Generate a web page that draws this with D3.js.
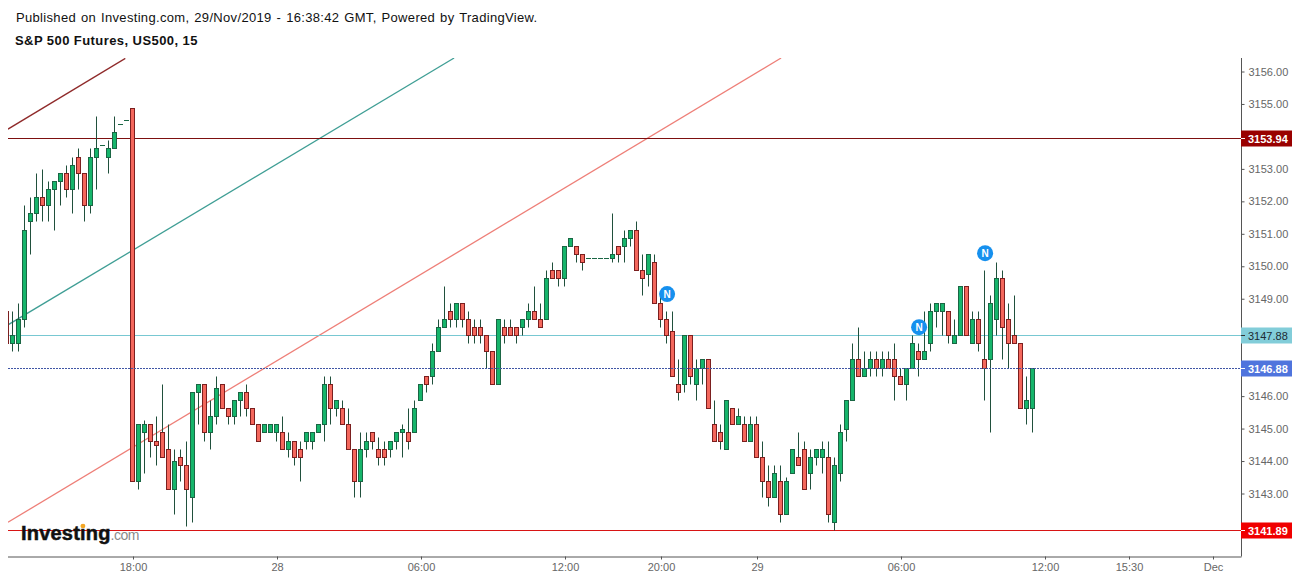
<!DOCTYPE html>
<html>
<head>
<meta charset="utf-8">
<style>
body { margin: 0; background: #fff; overflow: hidden; }
svg { display: block; }
text { font-family: "Liberation Sans", Arial, sans-serif; }
</style>
<script src="https://cdn.jsdelivr.net/npm/d3@7"></script>
</head>
<body>
<script>
const publishedText = 'Published on Investing.com, 29/Nov/2019 - 16:38:42 GMT, Powered by TradingView.';
const titleText = 'S&P 500 Futures, US500, 15';

// first bar is cut off by the left edge of the pane
const firstBar = -1;

const opens = [
  3148.63,3147.63,3147.63,3148.38,3151.38,3151.63,3152.13,3151.88,3152.38,3152.63,
  3152.88,3152.38,3153.38,3152.88,3151.88,3153.38,3153.75,3153.38,3153.63,3154.38,3154.5,
  3154.88,3143.38,3144.88,3145.13,3144.63,3144.88,3144.38,3143.13,3144.13,3143.88,
  3142.88,3146.13,3146.38,3144.88,3145.38,3146.38,3145.63,3145.38,3145.88,3146.13,
  3145.63,3145.13,3144.88,3144.88,3144.88,3144.88,3144.38,3144.63,3144.38,3144.63,
  3144.63,3144.88,3145.13,3146.38,3145.63,3145.63,3145.13,3144.38,3143.38,3144.38,
  3144.88,3144.38,3144.38,3144.38,3144.63,3144.88,3144.88,3144.88,3145.88,3146.63,
  3146.63,3147.38,3148.13,3148.63,3148.38,3148.88,3148.38,3148.13,3148.13,3147.88,
  3147.38,3146.38,3148.13,3148.13,3148.13,3148.13,3148.38,3148.63,3148.38,3148.38,
  3149.88,3149.88,3149.63,3150.63,3150.63,3150.38,3150.25,3150.25,3150.25,3150.25,
  3150.25,3150.63,3150.63,3150.88,3151.13,3149.88,3149.75,3150.13,3148.88,3148.38,
  3148.0,3146.38,3146.38,3147.88,3146.38,3146.88,3147.13,3145.13,3144.88,3144.38,
  3145.63,3145.13,3145.13,3144.63,3145.13,3144.13,3143.38,3142.88,3143.38,3142.38,
  3143.63,3144.13,3144.38,3143.63,3144.13,3144.13,3144.13,3142.13,3143.63,3145.0,
  3145.88,3147.13,3146.63,3146.88,3147.13,3146.88,3147.13,3147.13,3146.63,3146.38,
  3146.88,3147.38,3147.13,3147.63,3148.63,3148.63,3148.63,3147.63,3147.88,3149.38,
  3147.63,3148.38,3147.13,3147.13,3148.38,3149.63,3148.38,3147.88,3147.63,3145.63,3145.63
];
const highs = [
  3148.63,3148.63,3148.88,3151.88,3152.13,3152.88,3153.0,3152.63,3152.63,3152.88,
  3153.13,3153.38,3153.63,3152.88,3153.63,3154.63,3153.75,3153.88,3154.63,3154.38,3154.5,
  3154.88,3145.13,3145.25,3145.13,3145.38,3146.38,3145.13,3144.38,3144.38,3144.63,
  3146.13,3146.38,3146.38,3145.88,3146.63,3146.38,3145.63,3145.88,3146.13,3146.38,
  3145.63,3145.13,3145.13,3145.13,3145.13,3145.38,3144.88,3144.63,3144.63,3144.88,
  3144.88,3145.13,3146.63,3146.63,3145.88,3145.88,3145.63,3144.38,3144.88,3144.88,
  3144.88,3144.75,3144.63,3144.63,3144.88,3145.13,3145.63,3145.88,3146.38,3146.63,
  3147.63,3148.38,3149.38,3148.88,3148.88,3148.88,3148.63,3148.38,3148.38,3147.88,
  3147.38,3148.38,3148.38,3148.38,3148.13,3148.38,3148.88,3149.38,3148.88,3149.88,
  3150.13,3149.88,3150.63,3150.88,3150.63,3150.38,3150.25,3150.25,3150.25,3150.25,
  3151.63,3150.63,3151.13,3151.13,3151.38,3150.38,3150.38,3150.38,3149.13,3148.63,
  3148.63,3147.13,3147.88,3147.88,3147.13,3147.13,3147.13,3145.88,3145.13,3145.88,
  3145.63,3145.63,3145.38,3145.38,3145.38,3144.63,3143.88,3143.88,3143.88,3143.5,
  3144.38,3144.88,3144.63,3144.38,3144.38,3144.63,3144.63,3144.13,3145.13,3145.88,
  3147.63,3148.13,3147.38,3147.38,3147.38,3147.38,3147.38,3147.63,3146.88,3146.88,
  3147.88,3147.63,3148.63,3148.88,3148.88,3148.88,3148.63,3148.38,3149.38,3149.38,
  3148.63,3148.63,3149.88,3149.13,3150.13,3149.88,3148.88,3149.13,3147.63,3146.63,3146.88
];
const lows = [
  3147.63,3147.38,3147.38,3148.13,3150.38,3151.38,3151.38,3151.38,3151.13,3151.88,
  3152.13,3151.63,3152.38,3151.38,3151.63,3152.38,3153.75,3152.88,3153.63,3154.38,3154.5,
  3143.38,3143.13,3143.63,3144.13,3143.88,3144.13,3143.13,3142.38,3143.38,3142.0,
  3142.13,3145.13,3144.63,3144.38,3145.13,3145.63,3145.13,3145.13,3145.38,3145.38,
  3145.13,3144.63,3144.88,3144.88,3144.63,3144.38,3144.13,3143.88,3143.38,3144.38,
  3144.38,3144.88,3144.63,3145.13,3145.38,3145.13,3144.38,3142.88,3142.88,3144.13,
  3144.38,3143.88,3143.88,3144.13,3144.38,3144.13,3144.38,3144.88,3145.88,3146.13,
  3146.38,3147.38,3148.13,3148.13,3148.13,3148.13,3147.63,3147.63,3147.63,3146.88,
  3146.38,3146.38,3147.63,3147.88,3147.63,3147.88,3148.13,3148.38,3148.13,3148.38,
  3149.63,3149.38,3149.38,3150.63,3150.13,3149.88,3150.25,3150.25,3150.25,3150.25,
  3150.13,3150.13,3150.13,3150.63,3149.88,3149.13,3149.38,3148.88,3148.13,3147.63,
  3146.63,3145.88,3146.13,3146.38,3145.88,3146.38,3145.63,3144.63,3144.38,3144.38,
  3145.13,3145.13,3144.63,3144.63,3144.13,3142.88,3142.63,3142.88,3142.13,3142.38,
  3143.63,3143.88,3143.13,3143.13,3143.88,3143.63,3142.13,3141.88,3143.38,3144.63,
  3145.88,3146.63,3146.63,3146.63,3146.63,3146.63,3146.88,3145.88,3146.38,3145.88,
  3146.88,3146.63,3147.13,3147.38,3148.13,3147.88,3147.63,3147.63,3147.88,3147.88,
  3147.63,3147.38,3145.88,3144.88,3147.88,3147.13,3146.88,3147.63,3145.63,3145.13,3144.88
];
const closes = [
  3147.63,3147.88,3148.38,3151.13,3151.63,3152.13,3151.88,3152.38,3152.63,3152.88,
  3152.38,3153.13,3152.88,3151.88,3153.38,3153.63,3153.75,3153.63,3154.13,3154.38,3154.5,
  3143.38,3145.13,3145.13,3144.63,3144.5,3144.13,3143.13,3144.0,3143.88,3143.13,
  3146.13,3146.38,3144.88,3145.38,3146.25,3145.63,3145.38,3145.88,3146.13,3145.63,
  3145.13,3144.63,3145.13,3145.13,3145.13,3144.38,3144.63,3144.13,3144.13,3144.88,
  3144.88,3145.13,3146.38,3145.63,3145.88,3145.13,3144.38,3143.38,3144.38,3144.63,
  3144.63,3144.13,3144.13,3144.63,3144.88,3145.0,3144.63,3145.63,3146.38,3146.38,
  3147.38,3148.13,3148.38,3148.38,3148.88,3148.38,3147.88,3147.88,3147.88,3147.38,
  3146.38,3148.38,3147.88,3147.88,3147.88,3148.38,3148.63,3148.38,3148.13,3149.63,
  3149.63,3149.63,3150.63,3150.88,3150.38,3150.13,3150.25,3150.25,3150.25,3150.25,
  3150.38,3150.38,3150.88,3151.13,3149.88,3149.63,3150.38,3148.88,3148.38,3147.88,
  3146.63,3146.13,3147.88,3146.63,3146.88,3147.13,3145.63,3144.63,3144.63,3145.88,
  3145.13,3145.38,3144.63,3145.13,3144.13,3143.38,3142.88,3143.63,3142.38,3143.38,
  3144.38,3143.88,3143.13,3144.13,3144.38,3144.38,3142.38,3143.88,3144.88,3145.88,
  3147.13,3146.63,3146.88,3147.13,3146.88,3147.13,3146.88,3146.63,3146.38,3146.88,
  3147.63,3147.13,3147.38,3148.63,3148.88,3148.88,3147.88,3147.88,3149.38,3147.88,
  3148.38,3147.63,3146.88,3148.88,3149.63,3148.13,3147.63,3147.63,3145.63,3145.88,3146.88
];

// 3154, 3148, 3147 and 3142 are covered by the price tags on the original
const priceTicks = [3143,3144,3145,3146,3149,3150,3151,3152,3153,3155,3156];
const timeTickBars = [20,44,68,92,108,124,148,172,186,200];
const timeTickLabels = ['18:00','28','06:00','12:00','20:00','29','06:00','12:00','15:30','Dec'];

// trend lines, [bar, price] at both ends
const trendDarkRed = [[-0.75,3154.24],[18.8,3156.42]];
const trendTeal = [[-0.75,3148.21],[73.6,3156.43]];
const trendSalmon = [[-0.75,3142.13],[128.1,3156.43]];

const levelPrices = [3153.94,3147.88,3146.88,3141.89];
const levelColors = ['#7d0f0f','#78c8d2','#3f55a5','#d81414'];
const tagColors = ['#990000','#82cdd9','#4f74dd','#f00000'];
const tagTextColors = ['#fff','#1c2b33','#fff','#fff'];

const newsBars = [109.1,151.1,162.1];
const newsPrices = [3149.16,3148.14,3150.42];

const width = 1299;
const height = 580;
const pane = { left: 8, right: 1241.5, top: 58, bottom: 556.5 };

const svg = d3.select('body').append('svg')
    .attr('width', width)
    .attr('height', height);

svg.append('defs').append('clipPath').attr('id', 'pane')
    .append('rect')
    .attr('x', pane.left)
    .attr('y', pane.top)
    .attr('width', pane.right - pane.left)
    .attr('height', pane.bottom - pane.top);

const x = d3.scaleLinear().domain([0, 1]).range([12.5, 18.5]);
const y = d3.scaleLinear().domain([3156, 3143]).range([72, 494]);

const crisp = (v) => Math.floor(v) + 0.5;

// header
svg.append('text').attr('x', 16).attr('y', 22)
    .attr('font-size', 13).attr('fill', '#111')
    .attr('word-spacing', 1).attr('letter-spacing', 0.325)
    .text(publishedText);
svg.append('text').attr('x', 15).attr('y', 45)
    .attr('font-size', 13).attr('font-weight', 'bold').attr('fill', '#111')
    .attr('letter-spacing', 0.43)
    .text(titleText);

const plot = svg.append('g').attr('clip-path', 'url(#pane)');

// trend lines
const trendLine = d3.line().x((d) => x(d[0])).y((d) => y(d[1]));
[[trendDarkRed, '#8f2a2a'], [trendTeal, '#3f9e95'], [trendSalmon, '#ee7f78']].forEach((t) => {
    plot.append('path')
        .attr('d', trendLine(t[0]))
        .attr('fill', 'none')
        .attr('stroke', t[1])
        .attr('stroke-width', 1.3);
});

// horizontal levels, the dotted one goes on top of the candles later
levelPrices.forEach((p, i) => {
    if (i === 2) return;
    plot.append('line')
        .attr('x1', pane.left).attr('x2', pane.right)
        .attr('y1', crisp(y(p))).attr('y2', crisp(y(p)))
        .attr('stroke', levelColors[i])
        .attr('stroke-width', 1);
});

// candles
const bars = d3.range(opens.length);
const candle = plot.selectAll('g.candle').data(bars).enter().append('g').attr('class', 'candle');

candle.append('line')
    .attr('x1', (i) => x(i + firstBar)).attr('x2', (i) => x(i + firstBar))
    .attr('y1', (i) => crisp(y(highs[i]))).attr('y2', (i) => crisp(y(lows[i])))
    .attr('stroke', '#20503c');

candle.append('rect')
    .attr('x', (i) => x(i + firstBar) - 2)
    .attr('width', 4)
    .attr('y', (i) => crisp(y(Math.max(opens[i], closes[i]))))
    .attr('height', (i) => Math.max(0.01, crisp(y(Math.min(opens[i], closes[i]))) - crisp(y(Math.max(opens[i], closes[i])))))
    .attr('fill', (i) => closes[i] >= opens[i] ? '#16b56b' : '#f4675c')
    .attr('stroke', (i) => closes[i] >= opens[i] ? '#1a6644' : '#7b1f1f')
    .attr('stroke-width', 1);

plot.append('line')
    .attr('x1', pane.left).attr('x2', pane.right)
    .attr('y1', crisp(y(levelPrices[2]))).attr('y2', crisp(y(levelPrices[2])))
    .attr('stroke', levelColors[2])
    .attr('stroke-dasharray', '2 1');

// news markers
const news = plot.selectAll('g.news').data(newsBars).enter().append('g').attr('class', 'news')
    .attr('transform', (d, i) => `translate(${x(d)}, ${y(newsPrices[i])})`);
news.append('circle').attr('r', 8).attr('fill', '#1690ee');
news.append('text')
    .attr('text-anchor', 'middle').attr('y', 3.5)
    .attr('font-size', 10).attr('font-weight', 'bold').attr('fill', '#fff')
    .text('N');

// logo
const logo = svg.append('text').attr('x', 21).attr('y', 540);
logo.append('tspan')
    .attr('font-size', 20).attr('font-weight', 'bold').attr('fill', '#111')
    .attr('stroke', '#111').attr('stroke-width', 0.5).attr('letter-spacing', 0.2)
    .text('Investing');
logo.append('tspan')
    .attr('font-size', 14).attr('fill', '#8a8a8a').attr('letter-spacing', -0.5)
    .text('.com');
svg.append('circle').attr('cx', 83).attr('cy', 526).attr('r', 2.3).attr('fill', '#f5a623');

// axes
const xAxis = d3.axisBottom(x)
    .tickValues(timeTickBars)
    .tickSize(3)
    .tickPadding(4)
    .offset(0)
    .tickFormat((d, i) => timeTickLabels[i]);
const xAxisG = svg.append('g')
    .attr('transform', `translate(1, ${pane.bottom})`)
    .call(xAxis);
xAxisG.select('.domain').attr('d', `M${pane.left - 1},0.5H${pane.right - 1}`).attr('stroke', '#555');
xAxisG.selectAll('.tick line').attr('stroke', '#555');
xAxisG.selectAll('text').attr('font-size', 11).attr('fill', '#666').attr('font-family', null);

const yAxis = d3.axisRight(y)
    .tickValues(priceTicks)
    .tickSize(3)
    .tickPadding(4)
    .offset(0)
    .tickFormat(d3.format('.2f'));
const yAxisG = svg.append('g')
    .attr('transform', `translate(${pane.right}, 0)`)
    .call(yAxis);
yAxisG.select('.domain').attr('d', `M0,${pane.top}V${pane.bottom}`).attr('stroke', '#555');
yAxisG.selectAll('.tick line').attr('stroke', '#555');
yAxisG.selectAll('text').attr('font-size', 11).attr('fill', '#666').attr('font-family', null);

// price tags
const tags = svg.selectAll('g.tag').data(levelPrices).enter().append('g').attr('class', 'tag')
    .attr('transform', (d) => `translate(${pane.right - 0.5}, ${crisp(y(d))})`);
tags.append('rect')
    .attr('x', 0).attr('y', -8).attr('width', 51).attr('height', 16)
    .attr('fill', (d, i) => tagColors[i]);
tags.append('line')
    .attr('x1', 0).attr('x2', 4).attr('y1', 0).attr('y2', 0)
    .attr('stroke', (d, i) => i === 1 ? '#333' : '#fff');
tags.append('text')
    .attr('x', 7).attr('y', 4)
    .attr('font-size', 11)
    .attr('font-weight', (d, i) => i === 1 ? 'normal' : 'bold')
    .attr('fill', (d, i) => tagTextColors[i])
    .text((d) => d3.format('.2f')(d));
</script>
</body>
</html>
